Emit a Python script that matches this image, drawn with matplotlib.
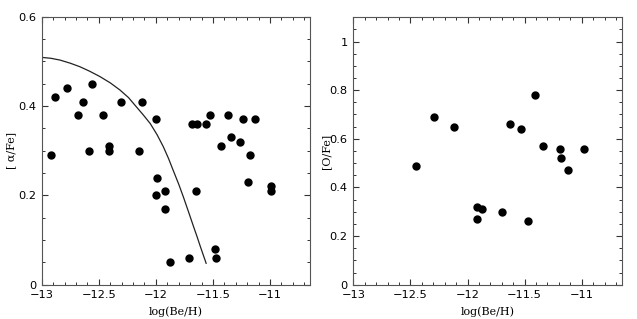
import numpy as np
import matplotlib.pyplot as plt
from matplotlib.ticker import MultipleLocator

# left panel: [alpha/Fe] vs log(Be/H)
be_alpha = [-12.92, -12.88, -12.78, -12.68, -12.64, -12.56, -12.59, -12.46, -12.41, -12.41,
            -12.31, -12.15, -12.12, -12.00, -11.68, -11.64, -11.56, -11.53, -11.37, -11.43,
            -11.34, -11.26, -11.24, -11.13, -11.18, -11.99, -12.00, -11.92, -11.92, -11.88,
            -11.71, -11.65, -11.48, -11.47, -11.19, -10.99, -10.99]
alpha_fe = [0.29, 0.42, 0.44, 0.38, 0.41, 0.45, 0.30, 0.38, 0.31, 0.30,
            0.41, 0.30, 0.41, 0.37, 0.36, 0.36, 0.36, 0.38, 0.38, 0.31,
            0.33, 0.32, 0.37, 0.37, 0.29, 0.24, 0.20, 0.21, 0.17, 0.05,
            0.06, 0.21, 0.08, 0.06, 0.23, 0.22, 0.21]

# model curve
model_x = [-13.0, -12.92, -12.84, -12.75, -12.665, -12.58, -12.49, -12.40, -12.315,
           -12.24, -12.17, -12.11, -12.05, -11.99, -11.935, -11.89, -11.85,
           -11.80, -11.76, -11.71, -11.67, -11.64, -11.61, -11.56]
model_y = [0.509, 0.507, 0.503, 0.496, 0.488, 0.478, 0.466, 0.452, 0.436,
           0.419, 0.398, 0.380, 0.361, 0.336, 0.309, 0.283, 0.257,
           0.225, 0.197, 0.160, 0.130, 0.108, 0.085, 0.048]

# right panel: [O/Fe] vs log(Be/H)
be_o = [-12.29, -12.12, -11.63, -11.53, -11.41, -11.34, -11.19, -10.98, -11.18,
        -12.45, -11.92, -11.92, -11.87, -11.70, -11.47, -11.12]
o_fe = [0.69, 0.65, 0.66, 0.64, 0.78, 0.57, 0.56, 0.56, 0.52,
        0.49, 0.32, 0.27, 0.31, 0.30, 0.26, 0.47]

xticks = [-13, -12.5, -12, -11.5, -11]
xticklabels = ['\u221213', '\u221212.5', '\u221212', '\u221211.5', '\u221211']

fig = plt.figure(figsize=(6.37, 3.19), dpi=100)
ax1 = fig.add_axes([0.0655, 0.1075, 0.4212, 0.840])
ax2 = fig.add_axes([0.5546, 0.1075, 0.4214, 0.8385])

label_font = dict(family='DejaVu Serif', fontsize=8)


def style(ax, ymax, ymajor, ylabels):
    ax.set_xlim(-13, -10.65)
    ax.set_ylim(0, ymax)
    ax.set_xticks(xticks)
    ax.set_xticklabels(xticklabels)
    ax.xaxis.set_minor_locator(MultipleLocator(0.1))
    ax.set_yticks(ymajor)
    ax.set_yticklabels(ylabels)
    ax.yaxis.set_minor_locator(MultipleLocator(0.05))
    ax.tick_params(which='both', direction='in', top=True, right=True,
                   labelsize=8.2, color='#333333')
    ax.tick_params(axis='x', pad=3.5)
    ax.tick_params(axis='y', pad=4)
    ax.tick_params(which='major', length=4, width=0.8)
    ax.tick_params(which='minor', length=2, width=0.7)
    for s in ax.spines.values():
        s.set_linewidth(0.8)
        s.set_color('#555555')
    ax.set_xlabel('log(Be/H)', **label_font, va='center')
    ax.xaxis.set_label_coords(0.5, -0.1)


ax1.plot(model_x, model_y, color='#222222', lw=0.9)
ax1.plot(be_alpha, alpha_fe, 'o', color='black', ms=5, mec='black')
style(ax1, 0.6, [0, 0.2, 0.4, 0.6], ['0', '0.2', '0.4', '0.6'])
ax1.set_ylabel('[ \u03b1/Fe]', **label_font, va='center')
ax1.yaxis.set_label_coords(-0.112, 0.5)

ax2.plot(be_o, o_fe, 'o', color='black', ms=5, mec='black')
style(ax2, 1.1, [0, 0.2, 0.4, 0.6, 0.8, 1.0], ['0', '0.2', '0.4', '0.6', '0.8', '1'])
ax2.set_ylabel('[O/Fe]', **label_font, va='center')
ax2.yaxis.set_label_coords(-0.1, 0.5)

fig.savefig('out.png', dpi=100)
